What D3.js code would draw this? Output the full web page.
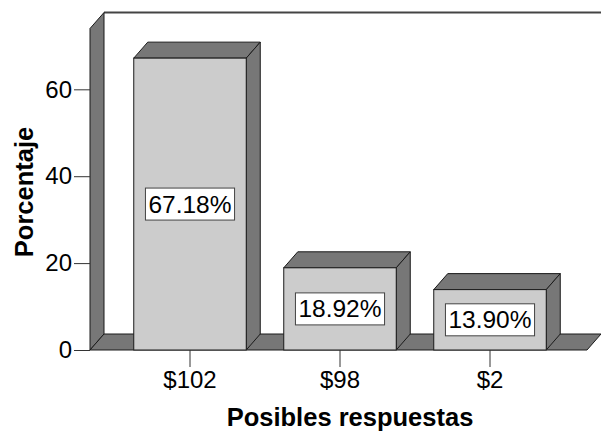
<!DOCTYPE html>
<html>
<head>
<meta charset="utf-8">
<script src="https://cdn.jsdelivr.net/npm/d3@7"></script>
<style>
  html, body { margin: 0; padding: 0; background: #fff; }
  svg { display: block; font-family: "Liberation Sans", Arial, sans-serif; }
</style>
</head>
<body>
<svg id="chart" width="601" height="432"></svg>
<script>
// Response categories and their percentages
const categories = ["$102", "$98", "$2"];
const percentages = [67.18, 18.92, 13.90];
const valueLabels = ["67.18%", "18.92%", "13.90%"];
const yTicks = [0, 20, 40, 60];

(function draw() {
  const svg = d3.select("#chart");

  // Depth offset of the pseudo-3D extrusion
  const dx = 14, dy = -16;

  const frontLeft = 90, frontRight = 587;
  const y = d3.scaleLinear().domain([0, 74]).range([350, 28.5]);
  const x = d3.scaleBand().domain(categories).range([115, 565])
    .paddingInner(0.25).paddingOuter(0.125);

  const baseY = y(0), wallTop = y(74);
  const dark = "#777777", light = "#cccccc", edge = "#1a1a1a";

  // Back wall top edge
  svg.append("line")
    .attr("x1", frontLeft + dx).attr("x2", 601)
    .attr("y1", wallTop + dy).attr("y2", wallTop + dy)
    .attr("stroke", "#444").attr("stroke-width", 2);

  // Left wall
  svg.append("polygon")
    .attr("points", [[frontLeft, baseY], [frontLeft, wallTop], [frontLeft + dx, wallTop + dy], [frontLeft + dx, baseY + dy]].join(" "))
    .attr("fill", dark).attr("stroke", edge).attr("stroke-width", 1);

  // Floor
  svg.append("polygon")
    .attr("points", [[frontLeft, baseY], [frontLeft + dx, baseY + dy], [frontRight + dx, baseY + dy], [frontRight, baseY]].join(" "))
    .attr("fill", dark).attr("stroke", edge).attr("stroke-width", 1);

  // Bars
  const data = categories.map((c, i) => ({ c, v: percentages[i], label: valueLabels[i] }));
  const bars = svg.append("g").selectAll("g").data(data).join("g");
  const w = x.bandwidth();

  bars.append("polygon") // top face
    .attr("points", d => {
      const x0 = x(d.c), y0 = y(d.v);
      return [[x0, y0], [x0 + dx, y0 + dy], [x0 + w + dx, y0 + dy], [x0 + w, y0]].join(" ");
    })
    .attr("fill", dark).attr("stroke", edge).attr("stroke-width", 1);

  bars.append("polygon") // side face
    .attr("points", d => {
      const x1 = x(d.c) + w, y0 = y(d.v);
      return [[x1, y0], [x1 + dx, y0 + dy], [x1 + dx, baseY + dy], [x1, baseY]].join(" ");
    })
    .attr("fill", dark).attr("stroke", edge).attr("stroke-width", 1);

  bars.append("rect") // front face
    .attr("x", d => x(d.c)).attr("y", d => y(d.v))
    .attr("width", w).attr("height", d => baseY - y(d.v))
    .attr("fill", light).attr("stroke", edge).attr("stroke-width", 1);

  // Value labels in boxes
  bars.each(function(d) {
    const g = d3.select(this);
    const cx = x(d.c) + w / 2;
    const cy = (y(d.v) + baseY) / 2;
    const t = g.append("text")
      .attr("x", cx).attr("y", cy)
      .attr("text-anchor", "middle").attr("dominant-baseline", "central")
      .attr("font-size", 24.5).attr("fill", "#000").text(d.label);
    const bb = t.node().getBBox();
    g.insert("rect", "text")
      .attr("x", bb.x - 3).attr("y", cy - 16)
      .attr("width", bb.width + 6).attr("height", 32)
      .attr("fill", "#fff").attr("stroke", "#444").attr("stroke-width", 1);
  });

  // Y axis ticks and labels
  const yAxis = svg.append("g")
    .attr("transform", `translate(${frontLeft},0)`)
    .call(d3.axisLeft(y).tickValues(yTicks).tickSize(16).tickPadding(2).tickFormat(d3.format("d")));
  yAxis.select(".domain").remove();
  yAxis.selectAll("line").attr("stroke", "#333");
  yAxis.selectAll("text").attr("font-size", 24).attr("fill", "#000")
    .attr("font-family", "'Liberation Sans', Arial, sans-serif");

  // X axis ticks and labels
  const xAxis = svg.append("g")
    .attr("transform", `translate(0,${baseY})`)
    .call(d3.axisBottom(x).tickSize(17).tickPadding(4));
  xAxis.select(".domain").remove();
  xAxis.selectAll("line").attr("stroke", "#333");
  xAxis.selectAll("text").attr("font-size", 24).attr("fill", "#000")
    .attr("font-family", "'Liberation Sans', Arial, sans-serif");

  // Axis titles
  svg.append("text")
    .attr("x", 350).attr("y", 426)
    .attr("text-anchor", "middle")
    .attr("font-size", 25.5).attr("font-weight", "bold")
    .text("Posibles respuestas");

  svg.append("text")
    .attr("transform", "translate(33,192) rotate(-90)")
    .attr("text-anchor", "middle")
    .attr("font-size", 25.5).attr("font-weight", "bold")
    .text("Porcentaje");
})();
</script>
</body>
</html>
